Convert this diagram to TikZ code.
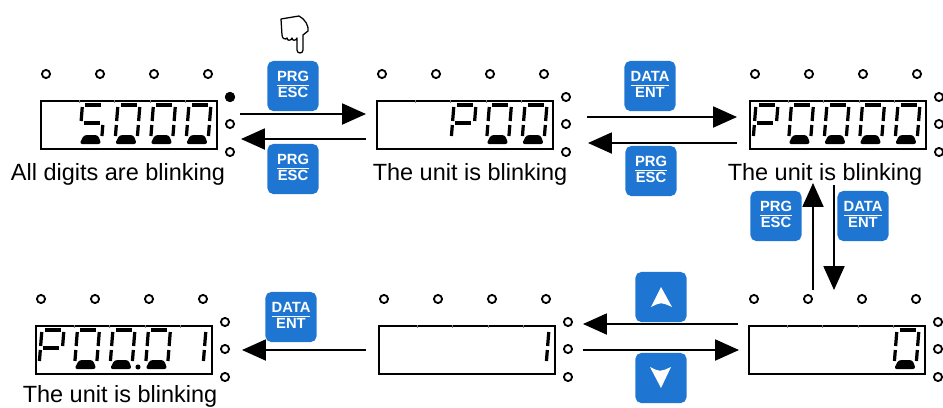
\documentclass[tikz,border=0pt]{standalone}
\usepackage{fontspec}
\setmainfont{Liberation Sans}
\usetikzlibrary{arrows.meta}

\definecolor{keyblue}{RGB}{30,118,210}
\setlength{\arrayrulewidth}{0.9pt}

\tikzset{
  lcdbox/.style={draw, line width=1.5pt, anchor=north west, minimum width=4.4cm, minimum height=1.2cm, inner sep=0pt},
  led/.style={line width=1.3pt},
  segline/.style={line width=2.3pt},
  keybtn/.style={fill=keyblue, rounded corners=4pt, minimum width=1.275cm, minimum height=1.25cm, text=white, font=\fontsize{10.5}{11.5}\selectfont\bfseries, inner sep=0pt},
  captext/.style={anchor=base, inner sep=0pt, font=\fontsize{16.7}{20}\selectfont},
  arr/.style={-{Triangle[length=17pt,width=15pt]}, line width=1.1pt},
  handline/.style={line width=0.9pt, line join=round},
}

% one segment each
\newcommand{\lcda}{\draw[segline] (4,1) -- (20,1);}
\newcommand{\lcdb}{\draw[segline] (23,3) -- (23,17);}
\newcommand{\lcdc}{\draw[segline] (23,21) -- (23,32);}
\newcommand{\lcdd}{\fill[rounded corners=2pt] (5,31) -- (19,31) -- (23,40) -- (1,40) -- cycle;}
\newcommand{\lcde}{\draw[segline] (1,21) -- (1,32);}
\newcommand{\lcdf}{\draw[segline] (1,3) -- (1,17);}
\newcommand{\lcdg}{\draw[segline] (4,19) -- (20,19);}

% box x, box y, cell, segments
\newcommand{\segdigit}[4]{%
  \begin{scope}[shift={({#1+6+35.5*#3},{#2+4})}, xslant=0.08]
    \foreach \s in {#4} {\csname lcd\s\endcsname}
  \end{scope}}
\newcommand{\digzero}[3]{\segdigit{#1}{#2}{#3}{a,b,c,d,e,f}}
\newcommand{\digfive}[3]{\segdigit{#1}{#2}{#3}{a,f,g,c,d}}
\newcommand{\digP}[3]{\segdigit{#1}{#2}{#3}{a,b,f,g,e}}
\newcommand{\digone}[3]{\segdigit{#1}{#2}{#3}{b,c}}

% name, box x, box y
\newcommand{\lcdpanel}[3]{%
  \node[lcdbox] (#1) at (#2,#3) {};
  \foreach \i in {1,...,4} \draw[gray, line width=0.5pt] (#2+4+35.3*\i,#3) -- ++(0,3);
  \foreach \i in {0,...,3} \draw[led] (#2+6+54*\i,#3-26) circle (2.9pt);
  \foreach \j in {-3,24,52} \draw[led] (#2+190,#3+\j) circle (2.9pt);
}

\begin{document}
\begin{tikzpicture}[x=0.025cm, y=-0.025cm]
  \useasboundingbox (0,0) rectangle (943,408);

  % displays
  \lcdpanel{p1}{40}{100}
  \lcdpanel{p2}{376}{100}
  \lcdpanel{p3}{749}{100}
  \lcdpanel{p4}{35}{325}
  \lcdpanel{p5}{378}{325}
  \lcdpanel{p6}{748}{325}
  \fill (230,97) circle (3.6pt);

  {
    \digfive{40}{100}{1} \digzero{40}{100}{2} \digzero{40}{100}{3} \digzero{40}{100}{4}
  }
  {
    \digP{376}{100}{2} \digzero{376}{100}{3} \digzero{376}{100}{4}
  }
  {
    \digP{749}{100}{0} \digzero{749}{100}{1} \digzero{749}{100}{2} \digzero{749}{100}{3} \digzero{749}{100}{4}
  }
  {
    \digP{35}{325}{0} \digzero{35}{325}{1} \digzero{35}{325}{2} \digzero{35}{325}{3} \digone{35}{325}{4}
    \fill (138,367) circle (1.8pt);
  }
  \digone{378}{325}{4}
  \digzero{748}{325}{4}

  \node[captext] (t1) at (118,180) {All digits are blinking};
  \node[captext] (t2) at (470,180) {The unit is blinking};
  \node[captext] (t3) at (825,180) {The unit is blinking};
  \node[captext] (t4) at (120,402) {The unit is blinking};

  % keys
  \node[keybtn] (prg1) at (293,86) {\begin{tabular}{@{}c@{}}PRG\\[-1pt]\hline ESC\end{tabular}};
  \node[keybtn] (prg2) at (293,169) {\begin{tabular}{@{}c@{}}PRG\\[-1pt]\hline ESC\end{tabular}};
  \node[keybtn] (data1) at (650,86) {\begin{tabular}{@{}c@{}}DATA\\[-1pt]\hline ENT\end{tabular}};
  \node[keybtn] (prg3) at (651,171) {\begin{tabular}{@{}c@{}}PRG\\[-1pt]\hline ESC\end{tabular}};
  \node[keybtn] (prg4) at (776,216) {\begin{tabular}{@{}c@{}}PRG\\[-1pt]\hline ESC\end{tabular}};
  \node[keybtn] (data2) at (863,216) {\begin{tabular}{@{}c@{}}DATA\\[-1pt]\hline ENT\end{tabular}};
  \node[keybtn] (data3) at (291,317) {\begin{tabular}{@{}c@{}}DATA\\[-1pt]\hline ENT\end{tabular}};
  \node[keybtn] (up) at (661,297) {};
  \node[keybtn] (down) at (661,378) {};
  \fill[white] (651,307) -- (661,287) -- (672,307) .. controls (661,302) .. (651,307);
  \fill[white] (650,367) .. controls (660,372) .. (671,367) -- (661,388) -- cycle;

  % pointing hand
  \draw[handline] (281,19) -- (299,16) .. controls (305,19) and (309,26) .. (308,31) -- (303,35)
    -- (303,50) .. controls (303,54) and (297,54) .. (297,50) -- (297,38)
    .. controls (296,41) and (292,41) .. (292,38) .. controls (291,41) and (287,41) .. (287,38)
    .. controls (286,40) and (282,39) .. (282,35) -- cycle;

  % connectors
  \coordinate (a12) at (240,114); \coordinate (b12) at (366,114);
  \coordinate (a21) at (366,139); \coordinate (b21) at (241,139);
  \coordinate (a23) at (587,117); \coordinate (b23) at (737,117);
  \coordinate (a32) at (737,143); \coordinate (b32) at (588,143);
  \coordinate (a36) at (834,185); \coordinate (b36) at (834,290);
  \coordinate (a63) at (813,290); \coordinate (b63) at (813,183);
  \coordinate (a65) at (738,324); \coordinate (b65) at (583,324);
  \coordinate (a56) at (583,350); \coordinate (b56) at (739,350);
  \coordinate (a54) at (366,350); \coordinate (b54) at (242,350);
  \draw[arr] (a12) -- (b12);
  \draw[arr] (a21) -- (b21);
  \draw[arr] (a23) -- (b23);
  \draw[arr] (a32) -- (b32);
  \draw[arr] (a36) -- (b36);
  \draw[arr] (a63) -- (b63);
  \draw[arr] (a65) -- (b65);
  \draw[arr] (a56) -- (b56);
  \draw[arr] (a54) -- (b54);
\end{tikzpicture}
\end{document}
